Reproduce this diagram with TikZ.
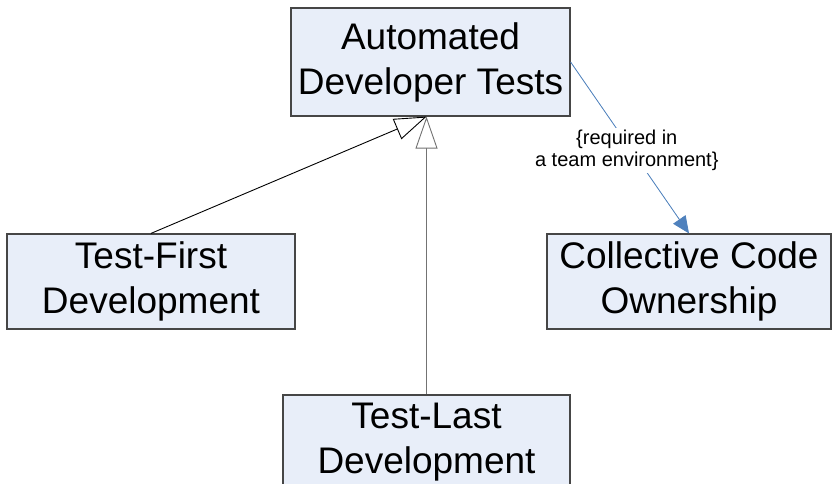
\documentclass[tikz,border=0pt]{standalone}
\usepackage{fontspec}
\setmainfont{Liberation Sans}
\usetikzlibrary{arrows.meta}
\definecolor{boxfill}{RGB}{232,238,249}
\definecolor{boxline}{RGB}{70,70,70}
\definecolor{deplink}{RGB}{79,129,189}
\tikzset{
  class/.style={draw=boxline, fill=boxfill, line width=1.2pt, align=center,
    inner sep=0pt, font=\fontsize{37}{45}\selectfont},
  inherit/.style={-{Triangle[open, fill=white, length=32pt, width=22pt]},
    line width=0.9pt},
  depend/.style={-{Triangle[length=17pt, width=15pt]}, draw=deplink,
    fill=deplink, line width=0.8pt},
  constraint/.style={fill=white, align=center, inner sep=2pt,
    font=\fontsize{20}{22}\selectfont}
}
\begin{document}
\begin{tikzpicture}[x=1pt,y=-1pt]
    \clip (0,0) rectangle (832,483);
    \fill[white] (0,0) rectangle (832,483);
    % classes
    \node[class, minimum width=279pt, minimum height=108pt] (adt) at (430.5,62) {Automated\\Developer Tests};
    \node[class, minimum width=288pt, minimum height=95pt] (tfd) at (151,281.5) {Test-First\\Development};
    \node[class, minimum width=284pt, minimum height=95pt] (cco) at (689,281.5) {Collective Code\\Ownership};
    \node[class, minimum width=287pt, minimum height=95pt] (tld) at (426.5,442.5) {Test-Last\\Development};
    % generalisation
    \draw[inherit] (tfd.north) to (tld.north |- adt.south);
    \draw[inherit, draw=black!55] (tld.north) to (tld.north |- adt.south);
    % dependency
    \draw[depend] (adt.east) to node[constraint, xshift=-3pt, yshift=-3pt, text=black] (req) {\{required in\\a team environment\}} (cco.north);
  \end{tikzpicture}
\end{document}
